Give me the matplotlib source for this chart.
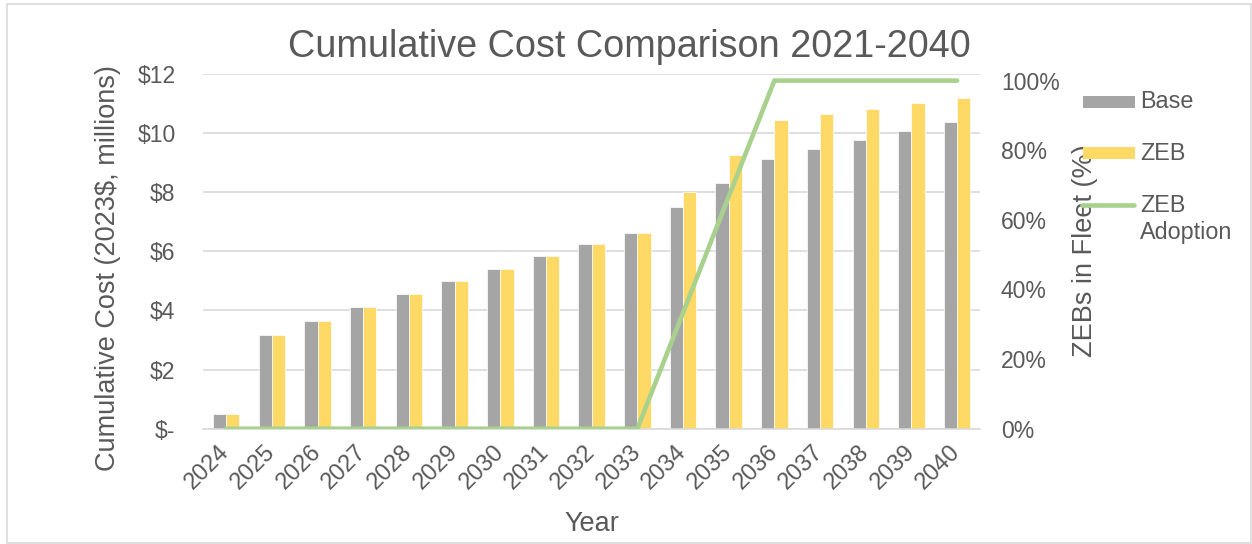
import matplotlib
matplotlib.use("Agg")
import matplotlib.pyplot as plt
from matplotlib.patches import Rectangle
from matplotlib.lines import Line2D
import numpy as np

years = ["2024", "2025", "2026", "2027", "2028", "2029", "2030", "2031", "2032",
         "2033", "2034", "2035", "2036", "2037", "2038", "2039", "2040"]
base_cost = [0.51, 3.18, 3.65, 4.12, 4.56, 5.00, 5.40, 5.83, 6.25,
             6.63, 7.49, 8.31, 9.12, 9.45, 9.77, 10.07, 10.37]
zeb_cost = [0.51, 3.18, 3.65, 4.12, 4.56, 5.00, 5.40, 5.83, 6.25,
            6.63, 8.00, 9.26, 10.44, 10.63, 10.82, 11.01, 11.18]
zeb_adoption = [0, 0, 0, 0, 0, 0, 0, 0, 0, 0, 0.333, 0.667, 1.0, 1.0, 1.0, 1.0, 1.0]
cost_ticks = [0, 2, 4, 6, 8, 10, 12]
cost_tick_labels = ["$-", "$2", "$4", "$6", "$8", "$10", "$12"]
pct_ticks = [0, 0.2, 0.4, 0.6, 0.8, 1.0]
pct_tick_labels = ["0%", "20%", "40%", "60%", "80%", "100%"]

GRAY = "#A5A5A5"
YELLOW = "#FFD966"
GREEN = "#A9D18E"
TEXT = "#595959"
GRID = "#D9D9D9"

plt.rcParams["font.family"] = ["Liberation Sans", "DejaVu Sans"]

W, H = 1252, 544
fig = plt.figure(figsize=(W / 100, H / 100), dpi=100)
fig.patch.set_facecolor("white")

# outer chart border
fig.add_artist(Rectangle((6.5 / W, 1 - 543 / H), (1251 - 6.5) / W, (543 - 4) / H,
                         transform=fig.transFigure, fill=False, edgecolor=GRID, lw=1.2))

ax = fig.add_axes([203.3 / W, 1 - 428.7 / H, (980 - 203.3) / W, (428.7 - 74) / H])
x = np.arange(len(years))
bw = 0.29
ax.bar(x - bw / 2, base_cost, width=bw, color=GRAY, edgecolor="white", linewidth=0.5, zorder=2)
ax.bar(x + bw / 2, zeb_cost, width=bw, color=YELLOW, edgecolor="white", linewidth=0.5, zorder=2)
ax.set_xlim(-0.5, len(years) - 0.5)
ax.set_ylim(0, 12)
ax.set_yticks(cost_ticks)
ax.set_yticklabels(cost_tick_labels)
ax.yaxis.grid(True, color=GRID, lw=1.2, zorder=0)
ax.set_axisbelow(True)
for s in ["top", "right", "left"]:
    ax.spines[s].set_visible(False)
ax.spines["bottom"].set_color(GRID)
ax.spines["bottom"].set_linewidth(1.2)
ax.tick_params(axis="y", length=0, pad=20, labelsize=16.5, labelcolor=TEXT)
ax.tick_params(axis="x", length=0, pad=14, labelsize=17, labelcolor=TEXT)
ax.set_xticks(x)
ax.set_xticklabels(years, rotation=45, ha="right", va="center", rotation_mode="anchor")
ax.set_xlabel("Year", fontsize=19.5, color=TEXT, va="center")
ax.xaxis.set_label_coords(0.5, (428.7 - 524) / (428.7 - 74))
ax.set_ylabel("Cumulative Cost (2023$, millions)", fontsize=19.5, color=TEXT, va="center", ha="center")
ax.yaxis.set_label_coords((108 - 203.3) / (980 - 203.3), (428.7 - 268) / (428.7 - 74))

ax2 = ax.twinx()
ax2.plot(x, zeb_adoption, color=GREEN, lw=3.3, solid_capstyle="round", solid_joinstyle="miter", zorder=3)
ax2.set_ylim(0, 1.019)
ax2.set_yticks(pct_ticks)
ax2.set_yticklabels(pct_tick_labels)
for s in ax2.spines.values():
    s.set_visible(False)
ax2.tick_params(axis="y", length=0, pad=15, labelsize=16.5, labelcolor=TEXT)
ax2.set_ylabel("ZEBs in Fleet (%)", fontsize=19.5, color=TEXT, va="center", ha="center", rotation=90)
ax2.yaxis.set_label_coords((1085 - 203.3) / (980 - 203.3), (428.7 - 251) / (428.7 - 74))

fig.text(629 / W, 1 - 47 / H, "Cumulative Cost Comparison 2021-2040", fontsize=27.2,
         color=TEXT, ha="center", va="center")

# legend keys on the right side, drawn over the secondary axis title
fig.add_artist(Rectangle((1083 / W, 1 - 108 / H), 52 / W, 12 / H, transform=fig.transFigure,
                         facecolor=GRAY, edgecolor="none"))
fig.add_artist(Rectangle((1083 / W, 1 - 159 / H), 52 / W, 12 / H, transform=fig.transFigure,
                         facecolor=YELLOW, edgecolor="none"))
fig.add_artist(Line2D([1082 / W, 1134 / W], [1 - 205 / H, 1 - 205 / H], transform=fig.transFigure,
                      color=GREEN, lw=3.3, solid_capstyle="round"))
fig.text(1140 / W, 1 - 102 / H, "Base", fontsize=16.8, color=TEXT, ha="left", va="center")
fig.text(1140 / W, 1 - 153 / H, "ZEB", fontsize=16.8, color=TEXT, ha="left", va="center")
fig.text(1140 / W, 1 - 205 / H, "ZEB", fontsize=16.8, color=TEXT, ha="left", va="center")
fig.text(1140 / W, 1 - 233 / H, "Adoption", fontsize=16.8, color=TEXT, ha="left", va="center")

fig.savefig("out.png", dpi=100, facecolor="white")
